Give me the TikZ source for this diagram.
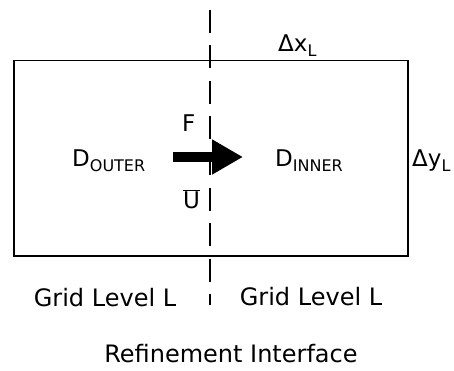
\documentclass[tikz,border=0pt]{standalone}
\usepackage{fontspec}
\setmainfont{DejaVu Sans}
\usetikzlibrary{arrows.meta, positioning}
\newcommand{\subtxt}[1]{\raisebox{-5pt}{\fontsize{16}{16}\selectfont #1}}

\begin{document}
\begin{tikzpicture}[x=1pt, y=-1pt,
    >=Stealth,
    lbl/.style={inner sep=0pt, anchor=base west, font=\fontsize{23}{23}\selectfont},
    lvltext/.style={inner sep=0pt, anchor=base, font=\fontsize{24}{24}\selectfont},
    iface/.style={line width=2.6pt, dash pattern=on 23pt off 12.5pt},
    flux/.style={-{Triangle[length=31pt, width=33pt]}, line width=10pt},
  ]
    \useasboundingbox (0,0) rectangle (454,371);

    \node[draw, line width=1.5pt, inner sep=0pt, minimum width=394pt, minimum height=195pt,
          anchor=north west] (grid) at (13,60) {};

    \coordinate (ifacetop) at (210,10);
    \coordinate (ifacebot) at (210,305);
    \draw[iface] (ifacetop) -- (ifacebot);

    \coordinate (fluxstart) at (173,157);
    \coordinate (fluxend) at (243,157);
    \draw[flux] (fluxstart) -- (fluxend);

    \node[lbl] (douter) at (72,167) {D\subtxt{OUTER}};
    \node[lbl] (dinner) at (275,167) {D\subtxt{INNER}};
    \node[lbl] (flx) at (182,132) {F};
    \node[lbl] (ubar) at (183,208) {$\overline{\mbox{U}}$};
    \node[lbl] (dx) at (278,52) {Δx\subtxt{L}};
    \node[lbl] (dy) at (412,167) {Δy\subtxt{L}};

    \node[lvltext] (lvlouter) at (105,306) {Grid Level L};
    \node[lvltext] (lvlinner) at (311,305) {Grid Level L};
    \node[lvltext] (refine) at (231,362) {Refinement Interface};
\end{tikzpicture}
\end{document}
